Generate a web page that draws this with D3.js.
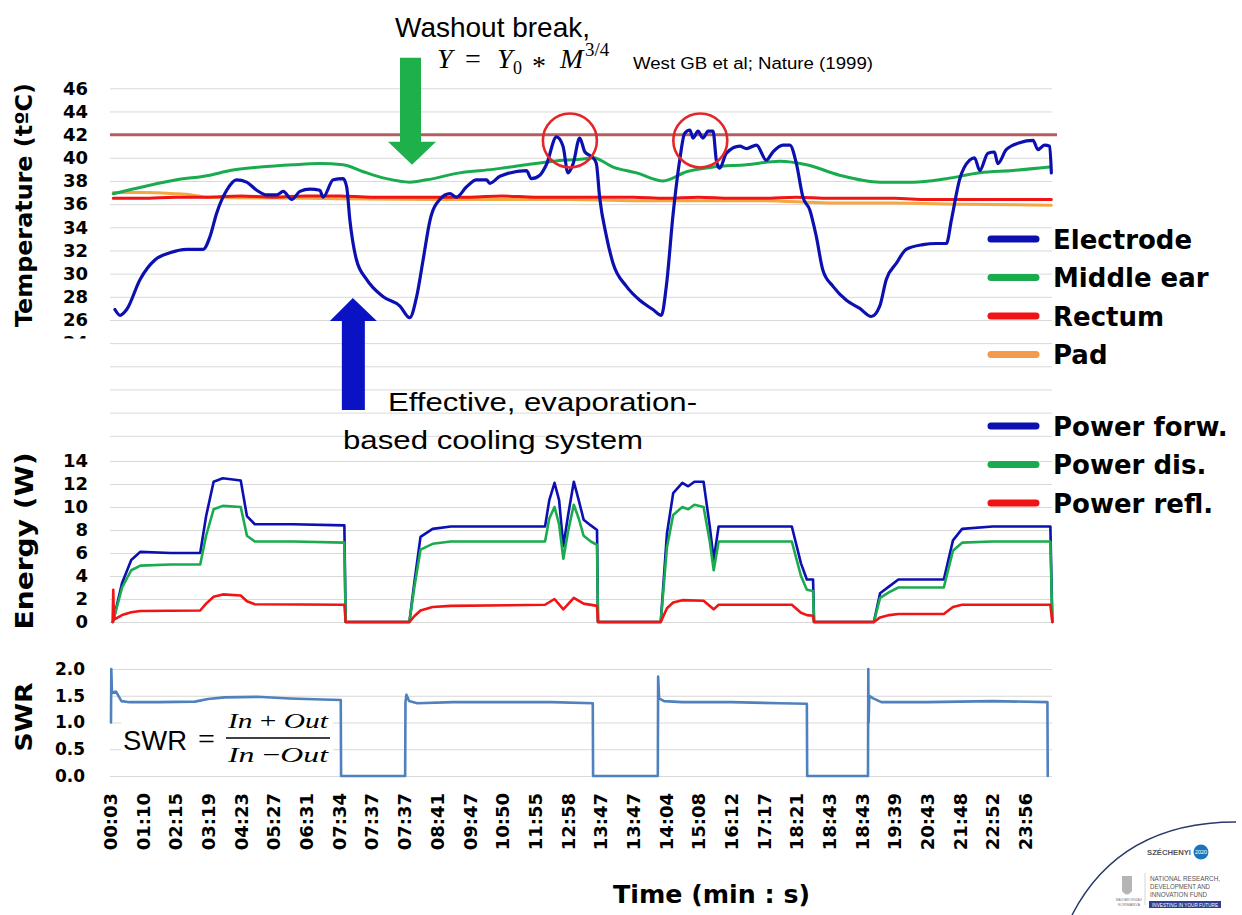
<!DOCTYPE html>
<html><head><meta charset="utf-8">
<script src="https://cdn.jsdelivr.net/npm/d3@7"></script>
<style>html,body{margin:0;padding:0;background:#fff;} svg{display:block;}</style>
</head><body>
<svg id="c" width="1242" height="915"></svg>
<script>
// ---------------- DATA ----------------
const timeLabels = ["00:03","01:10","02:15","03:19","04:23","05:27","06:31","07:34","07:37","07:37",
  "08:41","09:47","10:50","11:55","12:58","13:47","13:47","14:04","15:08","16:12","17:17","18:21",
  "18:43","18:43","19:39","20:43","21:48","22:52","23:56"];
const tempTicks = [26,28,30,32,34,36,38,40,42,44,46];
const tempGridTicks = [16,18,20,22,24,26,28,30,32,34,36,38,40,42,44,46];
const energyTicks = [0,2,4,6,8,10,12,14];
const swrTicks = [0,0.5,1,1.5,2];
const thresholdTemp = 42;

// [position along time axis (label slots), value]
const electrodeT = [[0.15,26.9],[0.31,26.4],[0.51,26.9],[0.92,29.5],[1.38,31.2],[1.83,31.8],[2.35,32.1],[2.85,32.1],
 [3.06,33.2],[3.26,35.2],[3.57,37.2],[3.87,38.1],[4.18,37.9],[4.49,37.2],[4.79,36.8],[5.10,36.8],[5.30,37.1],
 [5.56,36.4],[5.81,37.1],[6.12,37.3],[6.42,37.2],[6.52,36.6],[6.83,38.1],[7.13,38.2],[7.24,37.5],[7.34,34.6],
 [7.54,31.2],[7.85,29.5],[8.36,28.0],[8.87,27.2],[9.17,26.2],[9.38,28.0],[9.58,31.2],[9.79,34.6],[10.09,36.4],
 [10.40,36.9],[10.60,36.6],[10.91,37.5],[11.21,38.1],[11.52,38.1],[11.62,37.8],[11.93,38.4],[12.74,38.9],
 [12.89,38.2],[13.15,38.5],[13.35,39.4],[13.66,41.8],[13.86,41.0],[14.01,38.7],[14.17,39.5],[14.37,41.7],
 [14.53,40.5],[14.78,40.0],[14.88,39.5],[14.98,36.6],[15.19,33.2],[15.39,30.9],[15.80,28.9],[16.21,27.7],
 [16.61,26.9],[16.87,26.4],[17.02,28.9],[17.23,35.2],[17.43,39.8],[17.58,42.1],[17.74,42.4],[17.84,41.7],
 [17.99,42.3],[18.14,41.7],[18.30,42.3],[18.45,42.3],[18.55,39.8],[18.65,39.1],[18.86,40.4],[19.27,41.0],
 [19.47,40.8],[19.78,41.1],[20.08,39.8],[20.28,40.5],[20.59,41.1],[20.80,41.1],[21.00,39.5],[21.20,36.6],
 [21.41,35.5],[21.61,33.2],[21.81,30.3],[22.12,28.9],[22.53,27.7],[22.94,27.0],[23.29,26.3],[23.55,27.2],
 [23.75,29.5],[24.06,30.9],[24.36,32.1],[24.87,32.5],[25.28,32.6],[25.59,32.6],[25.74,34.6],[25.99,38.1],
 [26.30,39.8],[26.45,40.0],[26.61,38.9],[26.86,40.4],[27.06,40.5],[27.16,39.5],[27.42,40.7],[27.83,41.3],
 [28.24,41.5],[28.39,40.7],[28.59,41.1],[28.75,41.0],[28.80,38.7]];
const middleEarT = [[0.10,36.9],[1.02,37.5],[2.04,38.1],[3.06,38.5],[3.67,38.9],[4.59,39.2],[5.61,39.4],[6.42,39.5],
 [7.13,39.4],[7.75,38.8],[8.46,38.2],[9.17,37.9],[9.69,38.1],[10.70,38.7],[11.72,39.0],[12.74,39.4],[13.56,39.7],
 [14.47,39.9],[14.78,40.0],[15.39,39.2],[16.11,38.7],[16.92,38.0],[17.64,38.8],[18.45,39.2],[19.47,39.4],
 [20.49,39.7],[21.31,39.4],[22.32,38.5],[23.55,37.9],[24.57,37.9],[25.59,38.2],[26.61,38.7],[27.62,38.9],[28.75,39.2]];
const rectumT = [[0.10,36.5],[1.0,36.5],[2.0,36.6],[3.0,36.6],[4.0,36.7],[5.0,36.6],[6.0,36.7],[7.0,36.7],[8.0,36.6],
 [9.0,36.6],[10.0,36.6],[11.0,36.6],[12.0,36.7],[13.0,36.6],[14.0,36.6],[15.0,36.6],[16.0,36.6],[17.0,36.5],
 [18.0,36.6],[19.0,36.5],[20.0,36.5],[21.0,36.6],[22.0,36.5],[23.0,36.5],[24.0,36.5],[25.0,36.4],[26.0,36.4],
 [27.0,36.4],[28.0,36.4],[28.80,36.4]];
const padT = [[0.10,37.0],[1.0,37.0],[2.0,36.9],[2.5,36.8],[3.0,36.6],[6.0,36.5],[10.0,36.4],[14.0,36.4],[16.0,36.3],
 [18.0,36.3],[20.0,36.3],[22.0,36.1],[24.0,36.1],[26.0,36.0],[28.80,35.9]];

const powerForw = [[0.09,0],[0.37,3.4],[0.65,5.4],[0.93,6.1],[1.86,6.0],[2.76,6.0],[2.94,9.2],[3.17,12.2],[3.45,12.5],
 [4.00,12.3],[4.19,9.2],[4.43,8.5],[5.59,8.5],[7.17,8.4],[7.21,0],[9.16,0],[9.31,3.4],[9.50,7.4],[9.87,8.1],
 [10.43,8.3],[13.31,8.3],[13.44,10.6],[13.60,12.1],[13.74,10.6],[13.87,6.6],[14.01,9.2],[14.19,12.2],[14.34,10.6],
 [14.49,8.9],[14.71,8.4],[14.90,8.0],[14.93,0],[16.85,0],[17.04,7.7],[17.23,11.2],[17.51,12.1],[17.69,11.8],
 [17.88,12.2],[18.16,12.2],[18.35,8.3],[18.47,5.4],[18.62,8.3],[20.86,8.3],[21.14,5.1],[21.32,3.7],[21.51,3.7],
 [21.54,0],[23.37,0],[23.56,2.5],[23.84,3.1],[24.12,3.7],[25.51,3.7],[25.79,7.1],[26.07,8.1],[27.00,8.3],
 [28.77,8.3],[28.83,0]];
const powerDis = [[0.09,0],[0.37,3.0],[0.65,4.5],[0.93,4.9],[1.86,5.0],[2.76,5.0],[2.94,7.5],[3.17,9.8],[3.45,10.1],
 [4.00,10.0],[4.19,7.5],[4.43,7.0],[5.59,7.0],[7.17,6.9],[7.21,0],[9.16,0],[9.31,3.0],[9.50,6.3],[9.87,6.8],
 [10.43,7.0],[13.31,7.0],[13.44,9.0],[13.60,10.0],[13.74,8.5],[13.87,5.5],[14.01,7.8],[14.19,10.2],[14.34,9.0],
 [14.49,7.5],[14.71,7.0],[14.90,6.7],[14.93,0],[16.85,0],[17.04,6.5],[17.23,9.3],[17.51,10.0],[17.69,9.8],
 [17.88,10.2],[18.16,10.0],[18.35,7.0],[18.47,4.5],[18.62,7.0],[20.86,7.0],[21.14,4.0],[21.32,2.8],[21.51,2.7],
 [21.54,0],[23.37,0],[23.56,2.1],[23.84,2.6],[24.12,3.0],[25.51,3.0],[25.79,6.2],[26.07,6.9],[27.00,7.0],
 [28.77,7.0],[28.83,0]];
const powerRefl = [[0.08,0],[0.10,2.8],[0.12,0.2],[0.37,0.6],[0.65,0.85],[0.93,0.95],[2.76,1.0],[2.94,1.6],[3.17,2.2],
 [3.45,2.4],[4.00,2.3],[4.19,1.8],[4.43,1.55],[7.17,1.5],[7.21,0],[9.16,0],[9.31,0.5],[9.50,1.0],[9.87,1.3],
 [10.43,1.4],[13.31,1.5],[13.60,2.0],[13.87,1.1],[14.19,2.1],[14.49,1.6],[14.90,1.4],[14.93,0],[16.85,0],
 [17.04,1.2],[17.23,1.7],[17.51,1.9],[18.16,1.85],[18.47,1.1],[18.62,1.5],[20.86,1.5],[21.14,0.8],[21.32,0.6],
 [21.51,0.55],[21.54,0],[23.37,0],[23.56,0.4],[23.84,0.6],[24.12,0.7],[25.51,0.7],[25.79,1.3],[26.07,1.5],
 [28.77,1.5],[28.83,0]];
const swr = [[0.03,1.0],[0.04,2.0],[0.06,1.55],[0.18,1.58],[0.35,1.40],[0.6,1.38],[1.5,1.38],[2.6,1.39],[3.0,1.44],
 [3.5,1.47],[4.5,1.48],[5.5,1.45],[6.5,1.43],[7.06,1.42],[7.07,0],[9.03,0],[9.04,1.38],[9.07,1.52],[9.15,1.40],
 [9.4,1.36],[10.5,1.38],[12.0,1.38],[13.5,1.38],[14.77,1.36],[14.78,0],[16.76,0],[16.77,1.86],[16.80,1.45],
 [16.95,1.40],[17.5,1.38],[19.0,1.38],[20.5,1.36],[21.32,1.35],[21.33,0],[23.19,0],[23.20,2.0],[23.21,1.0],
 [23.23,1.5],[23.35,1.45],[23.6,1.38],[25.0,1.38],[27.0,1.40],[28.68,1.38],[28.69,0]];

const tempLegend = ["Electrode","Middle ear","Rectum","Pad"];
const powerLegend = ["Power forw.","Power dis.","Power refl."];

// ---------------- STYLE / LAYOUT ----------------
const C = {blue:"#0d10b0", green:"#1aab4e", red:"#f01414", pad:"#f5a742", swr:"#4f81bd", brown:"#b35f5f", grid:"#d9d9d9"};
const svg = d3.select("#c");
svg.append("rect").attr("width",1242).attr("height",915).attr("fill","#fff");
const X0 = 110, X1 = 1052;
const x  = d3.scaleLinear().domain([0,28.82]).range([X0,X1]);
const yT = d3.scaleLinear().domain([16,46]).range([435.8,88.3]);
const yE = d3.scaleLinear().domain([0,14]).range([622,461]);
const yS = d3.scaleLinear().domain([0,2]).range([776,669]);

function grid(scale, vals){
  const g = svg.append("g").attr("transform",`translate(${X0},0)`)
    .call(d3.axisLeft(scale).tickValues(vals).tickSize(-(X1-X0)).tickFormat(""));
  g.select(".domain").remove();
  g.selectAll("line").attr("stroke",C.grid).attr("stroke-width",1);
}
grid(yT,tempGridTicks); grid(yE,energyTicks); grid(yS,swrTicks);

function yLabels(scale, vals, fmt, xr, size){
  const g = svg.append("g").attr("transform",`translate(${xr},0)`)
    .call(d3.axisLeft(scale).tickValues(vals).tickSize(0).tickPadding(0).tickFormat(fmt));
  g.select(".domain").remove();
  g.selectAll("text").attr("font-family","DejaVu Sans").attr("font-weight","bold")
    .attr("font-size",size).attr("fill","#000");
  return g;
}
yLabels(yT,[24].concat(tempTicks),d3.format("d"),88,18);
svg.append("rect").attr("x",50).attr("y",338.5).attr("width",45).attr("height",22).attr("fill","#fff");
yLabels(yE,energyTicks,d3.format("d"),88,18);
yLabels(yS,swrTicks,d3.format(".1f"),85,17);

// x axis labels
const gx = svg.append("g").attr("transform","translate(0,793)")
  .call(d3.axisBottom(x).tickValues(d3.range(timeLabels.length)).tickSize(0).tickFormat(i=>timeLabels[i]));
gx.select(".domain").remove();
gx.selectAll("text").attr("transform","rotate(-90)").attr("x",0).attr("y",0).attr("dy","0.36em")
  .attr("text-anchor","end").attr("font-family","DejaVu Sans").attr("font-weight","bold")
  .attr("font-size",18).attr("fill","#000");

// text helper
function T(str, xx, yy, o={}){
  const t = svg.append("text").attr("x",xx).attr("y",yy).text(str)
    .attr("font-family",o.family||"Liberation Sans").attr("font-size",o.size||16)
    .attr("font-weight",o.weight||"normal").attr("fill",o.fill||"#000");
  if(o.len){t.attr("textLength",o.len).attr("lengthAdjust","spacingAndGlyphs");}
  if(o.style) t.attr("font-style",o.style);
  return t;
}
function VT(str, bx, cy, len, size){
  svg.append("text").attr("transform",`translate(${bx},${cy}) rotate(-90)`).attr("x",-len/2).attr("y",0)
    .text(str).attr("font-family","DejaVu Sans").attr("font-weight","bold").attr("font-size",size)
    .attr("textLength",len).attr("lengthAdjust","spacingAndGlyphs").attr("fill","#000");
}
VT("Temperature (tºC)",31.8,205,244,23);
VT("Energy (W)",32.5,541,177,24);
VT("SWR",31.7,717,69,23);
T("Time (min : s)",613,903,{family:"DejaVu Sans",weight:"bold",size:25,len:197});

// ---------------- LINES ----------------
const lineT = d3.line().x(d=>x(d[0])).y(d=>yT(d[1])).curve(d3.curveMonotoneX);
const lineE = d3.line().x(d=>x(d[0])).y(d=>yE(d[1]));
const lineS = d3.line().x(d=>x(d[0])).y(d=>yS(d[1]));
function path(data, gen, color, w){
  svg.append("path").datum(data).attr("d",gen).attr("fill","none").attr("stroke",color)
    .attr("stroke-width",w).attr("stroke-linejoin","round").attr("stroke-linecap","round");
}
// threshold
svg.append("line").attr("x1",X0).attr("x2",X1+5).attr("y1",yT(thresholdTemp)).attr("y2",yT(thresholdTemp))
  .attr("stroke",C.brown).attr("stroke-width",3);
path(padT,lineT,C.pad,3);
path(rectumT,lineT,C.red,3);
path(middleEarT,lineT,C.green,3);
path(electrodeT,lineT,C.blue,3.2);

path(powerForw,lineE,C.blue,2.6);
path(powerDis,lineE,C.green,2.6);
path(powerRefl,lineE,C.red,2.6);

path(swr,lineS,C.swr,2.6);

// ---------------- ANNOTATIONS ----------------
// red circles around overheating peaks
[[14.07,41.5],[18.06,41.5]].forEach(p=>{
  svg.append("circle").attr("cx",x(p[0])).attr("cy",yT(p[1])).attr("r",27)
    .attr("fill","none").attr("stroke","#e3262a").attr("stroke-width",2.6);
});
// green down arrow (washout break)
{ const tx=x(9.24), ty=yT(39.4);
  svg.append("path").attr("fill","#1db04b").attr("d",
   `M${tx},${ty} L${tx-24},${ty-23} L${tx-12},${ty-23} L${tx-12},${ty-107} L${tx+9},${ty-107} L${tx+9},${ty-23} L${tx+24},${ty-23} Z`);
}
// blue up arrow (cooling)
{ const tx=x(7.43), ty=yT(27.9);
  svg.append("path").attr("fill","#0b12c4").attr("d",
   `M${tx},${ty} L${tx-23},${ty+23} L${tx-11},${ty+23} L${tx-11},${ty+112} L${tx+12},${ty+112} L${tx+12},${ty+23} L${tx+24},${ty+23} Z`);
}
T("Washout break,",395,37,{size:28,len:195});
// formula Y = Y0 * M^(3/4)
{ const t = svg.append("text").attr("y",68).attr("font-family","Liberation Serif").attr("font-size",28).attr("fill","#000");
  t.append("tspan").attr("x",437).attr("font-style","italic").text("Y");
  t.append("tspan").attr("x",465).text("=");
  t.append("tspan").attr("x",497).attr("font-style","italic").text("Y");
  t.append("tspan").attr("x",513).attr("dy",6).attr("font-size",18).text("0");
  t.append("tspan").attr("x",532).attr("dy",1).text("*");
  t.append("tspan").attr("x",560).attr("dy",-7).attr("font-style","italic").text("M");
  t.append("tspan").attr("x",585).attr("dy",-12).attr("font-size",19).text("3/4");
}
T("West GB et al; Nature (1999)",633,69,{size:16,len:240});
T("Effective, evaporation-",388,411,{size:26,len:309});
T("based cooling system",343,449,{size:26,len:300});

// SWR formula
svg.append("rect").attr("x",121).attr("y",712).attr("width",212).attr("height",58).attr("fill","#fff");
T("SWR",123,750,{size:28,len:64});
T("=",198,749,{family:"Liberation Serif",size:30});
{ const n = svg.append("text").attr("x",228).attr("y",728).attr("font-family","Liberation Serif").attr("font-size",22)
    .attr("textLength",100).attr("lengthAdjust","spacingAndGlyphs");
  n.append("tspan").attr("font-style","italic").text("In");
  n.append("tspan").text(" + ");
  n.append("tspan").attr("font-style","italic").text("Out");
  const d = svg.append("text").attr("x",228).attr("y",762).attr("font-family","Liberation Serif").attr("font-size",22)
    .attr("textLength",100).attr("lengthAdjust","spacingAndGlyphs");
  d.append("tspan").attr("font-style","italic").text("In");
  d.append("tspan").text(" −");
  d.append("tspan").attr("font-style","italic").text("Out");
  svg.append("line").attr("x1",226).attr("x2",330).attr("y1",738).attr("y2",738).attr("stroke","#000").attr("stroke-width",1.3);
}

// ---------------- LEGEND ----------------
const tempLegColors = [C.blue,C.green,C.red,"#f39a4c"];
const powLegColors = [C.blue,C.green,C.red];
function legend(names, colors, y0){
  names.forEach((n,i)=>{
    const cy = y0 + i*38.5;
    svg.append("line").attr("x1",991).attr("x2",1036).attr("y1",cy).attr("y2",cy)
      .attr("stroke",colors[i]).attr("stroke-width",7).attr("stroke-linecap","round");
    T(n,1053,cy+9.5,{family:"DejaVu Sans",weight:"bold",size:26});
  });
}
legend(tempLegend,tempLegColors,239);
legend(powerLegend,powLegColors,426);

// ---------------- LOGO ----------------
svg.append("path").attr("d","M1072,915 Q1120,822 1236,822").attr("fill","none").attr("stroke","#2b3a6b").attr("stroke-width",1.5);
T("SZÉCHENYI",1147,855,{size:8,weight:"bold",fill:"#555",len:44});
svg.append("circle").attr("cx",1201).attr("cy",852).attr("r",7.5).attr("fill","#1c75bc");
T("2020",1195,854,{size:4.5,fill:"#fff",len:12});
svg.append("path").attr("d","M1122,876 L1132,876 L1132,891 Q1127,898 1122,891 Z").attr("fill","#b5b5b5");
svg.append("line").attr("x1",1145).attr("x2",1145).attr("y1",873).attr("y2",905).attr("stroke","#bbb").attr("stroke-width",0.6);
T("MAGYARORSZÁG",1116,901,{size:3.5,fill:"#777",len:26});
T("KORMÁNYA",1118,906,{size:3.5,fill:"#777",len:22});
T("NATIONAL RESEARCH,",1150,881,{size:6.5,fill:"#555",len:70});
T("DEVELOPMENT AND",1150,889,{size:6.5,fill:"#555",len:60});
T("INNOVATION FUND",1150,897,{size:6.5,fill:"#555",len:57});
svg.append("rect").attr("x",1149).attr("y",901).attr("width",72).attr("height",7).attr("fill","#2e3f8f");
T("INVESTING IN YOUR FUTURE",1152,906.5,{size:5,fill:"#fff",len:66});
</script>
</body></html>
